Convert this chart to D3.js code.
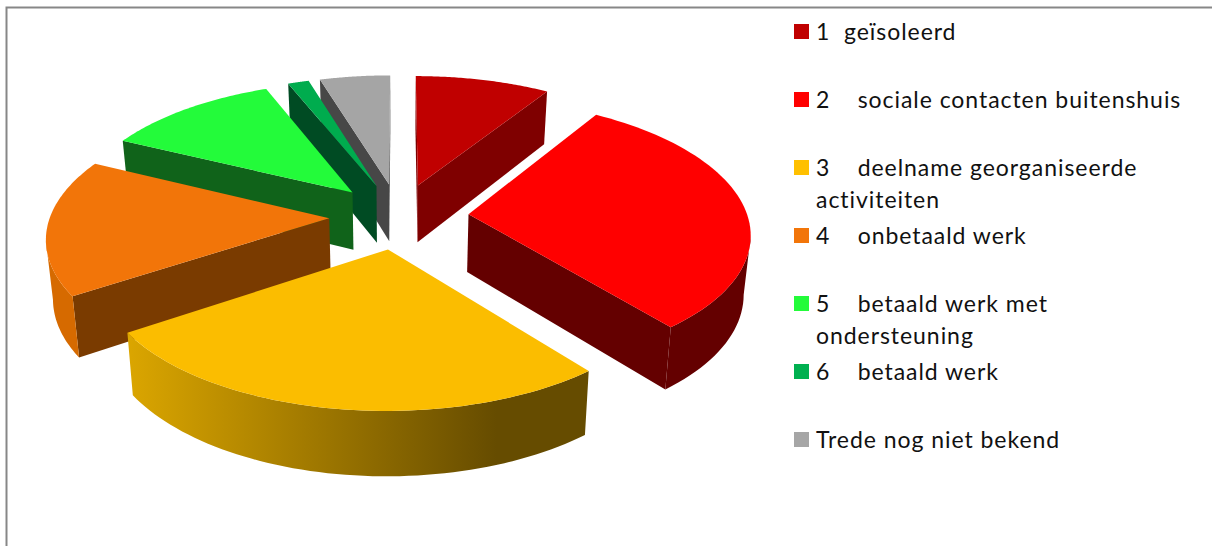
<!DOCTYPE html>
<html>
<head>
<meta charset="utf-8">
<script src="https://cdn.jsdelivr.net/npm/d3@7"></script>
<style>
  html, body { margin: 0; background: #fff; }
  svg { display: block; }
  text { font-family: Lato, "Open Sans", sans-serif; font-size: 23px; letter-spacing: 0.95px; fill: #111; white-space: pre; }
</style>
</head>
<body>
<script>
// DATA =============================================
var steps = ["1", "2", "3", "4", "5", "6", "7"];
var shares = [9, 30.2, 26.5, 16.5, 11.7, 1.4, 4.7];
var legendLines = [
  ["1  geïsoleerd"],
  ["2    sociale contacten buitenshuis"],
  ["3    deelname georganiseerde", "activiteiten"],
  ["4    onbetaald werk"],
  ["5    betaald werk met", "ondersteuning"],
  ["6    betaald werk"],
  ["Trede nog niet bekend"]
];
var topColors = ["#c00000", "#ff0000", "#fbbd00", "#f27509", "#23fb3a", "#00ac4e", "#a5a5a5"];
var legendColors = ["#c00000", "#ff0000", "#ffc000", "#f27509", "#23fb3a", "#00b050", "#a6a6a6"];
var wallColors = ["#7f0000", "#640000", "#664c00", "#7a3b00", "#10631a", "#004b23", "#474747"];
var rimLeft = ["#7f0000", "#640000", "#dba600", "#d66a00", "#10631a", "#004b23", "#474747"];
var rimRight = ["#7f0000", "#640000", "#664c00", "#d66a00", "#10631a", "#004b23", "#474747"];
// =============================================

var width = 1212, height = 546;

var cx = 399, cy = 216,
    rx = 279, ry = 131,
    persp = 0.13,        // how much nearer points grow
    explode = 0.25,      // slice offset, in radii
    depth = 58,          // height of the pie in pixels at y = 0
    depthPersp = 0.09,
    bottomShrink = 0.98; // bottom face lies a bit further from the camera

var color = d3.scaleOrdinal(steps, topColors);
var pieLayout = d3.pie().sort(null).value(d => d)(shares);

// wx right, wy towards the viewer, pie radius = 1
function project(wx, wy, lower) {
  var w = 1 - persp * wy;
  var px = rx * wx / w;
  var py = ry * wy / w;
  if (lower) return [cx + px * bottomShrink, cy + py + depth / (1 - depthPersp * wy)];
  return [cx + px, cy + py];
}

var line = d3.line();

var svg = d3.select("body").append("svg")
    .attr("width", width)
    .attr("height", height);

var defs = svg.append("defs");

svg.append("path")
    .attr("d", "M6.5," + height + "V7.5H" + width)
    .attr("fill", "none")
    .attr("stroke", "#878787")
    .attr("stroke-width", 2);

var slices = pieLayout.map((d, i) => {
  var mid = (d.startAngle + d.endAngle) / 2;
  var ax = explode * Math.sin(mid), ay = -explode * Math.cos(mid);
  var rim = d3.range(0, 61).map(k => {
    var a = d.startAngle + (d.endAngle - d.startAngle) * k / 60;
    return [ax + Math.sin(a), ay - Math.cos(a)];
  });
  return {i, ax, ay, rim};
});

// back slices first so the nearer ones cover them
slices.sort((a, b) => a.ay - b.ay);

slices.forEach(s => {
  var g = svg.append("g").attr("class", "slice");
  var apex = [s.ax, s.ay];
  var first = s.rim[0], last = s.rim[s.rim.length - 1];

  // walls only where the top edge runs right to left on screen
  function wall(a, b, fill) {
    var pa = project(a[0], a[1]), pb = project(b[0], b[1]);
    if (pb[0] - pa[0] >= 0) return;
    g.append("path")
      .attr("d", line([pa, pb, project(b[0], b[1], true), project(a[0], a[1], true)]) + "Z")
      .attr("fill", fill);
  }

  wall(apex, first, wallColors[s.i]);
  wall(last, apex, wallColors[s.i]);

  var rimTop = s.rim.map(p => project(p[0], p[1]));
  var visible = [];
  for (var k = 0; k < s.rim.length - 1; k++) {
    if (rimTop[k + 1][0] - rimTop[k][0] < 0) visible.push(k, k + 1);
  }
  visible = Array.from(new Set(visible));
  if (visible.length) {
    var up = visible.map(k => rimTop[k]);
    var down = visible.map(k => project(s.rim[k][0], s.rim[k][1], true)).reverse();
    var xs = up.map(p => p[0]);
    var id = "rim" + s.i;
    var grad = defs.append("linearGradient")
        .attr("id", id)
        .attr("gradientUnits", "userSpaceOnUse")
        .attr("x1", d3.min(xs)).attr("x2", d3.max(xs))
        .attr("y1", 0).attr("y2", 0);
    grad.append("stop").attr("offset", 0).attr("stop-color", rimLeft[s.i]);
    grad.append("stop").attr("offset", 0.8).attr("stop-color", rimRight[s.i]);
    grad.append("stop").attr("offset", 1).attr("stop-color", rimRight[s.i]);
    g.append("path")
      .attr("d", line(up.concat(down)) + "Z")
      .attr("fill", "url(#" + id + ")");
  }

  g.append("path")
    .attr("d", line([project(s.ax, s.ay)].concat(rimTop)) + "Z")
    .attr("fill", color(steps[s.i]));
});

// legend
var legend = svg.append("g").attr("class", "legend");
legendLines.forEach((lines, i) => {
  var y = 24 + i * 68;
  legend.append("rect")
    .attr("x", 794).attr("y", y)
    .attr("width", 15).attr("height", 15)
    .attr("fill", legendColors[i]);
  lines.forEach((t, j) => {
    legend.append("text")
      .attr("x", 816)
      .attr("y", y + 16 + j * 32)
      .text(t);
  });
});
</script>
</body>
</html>
